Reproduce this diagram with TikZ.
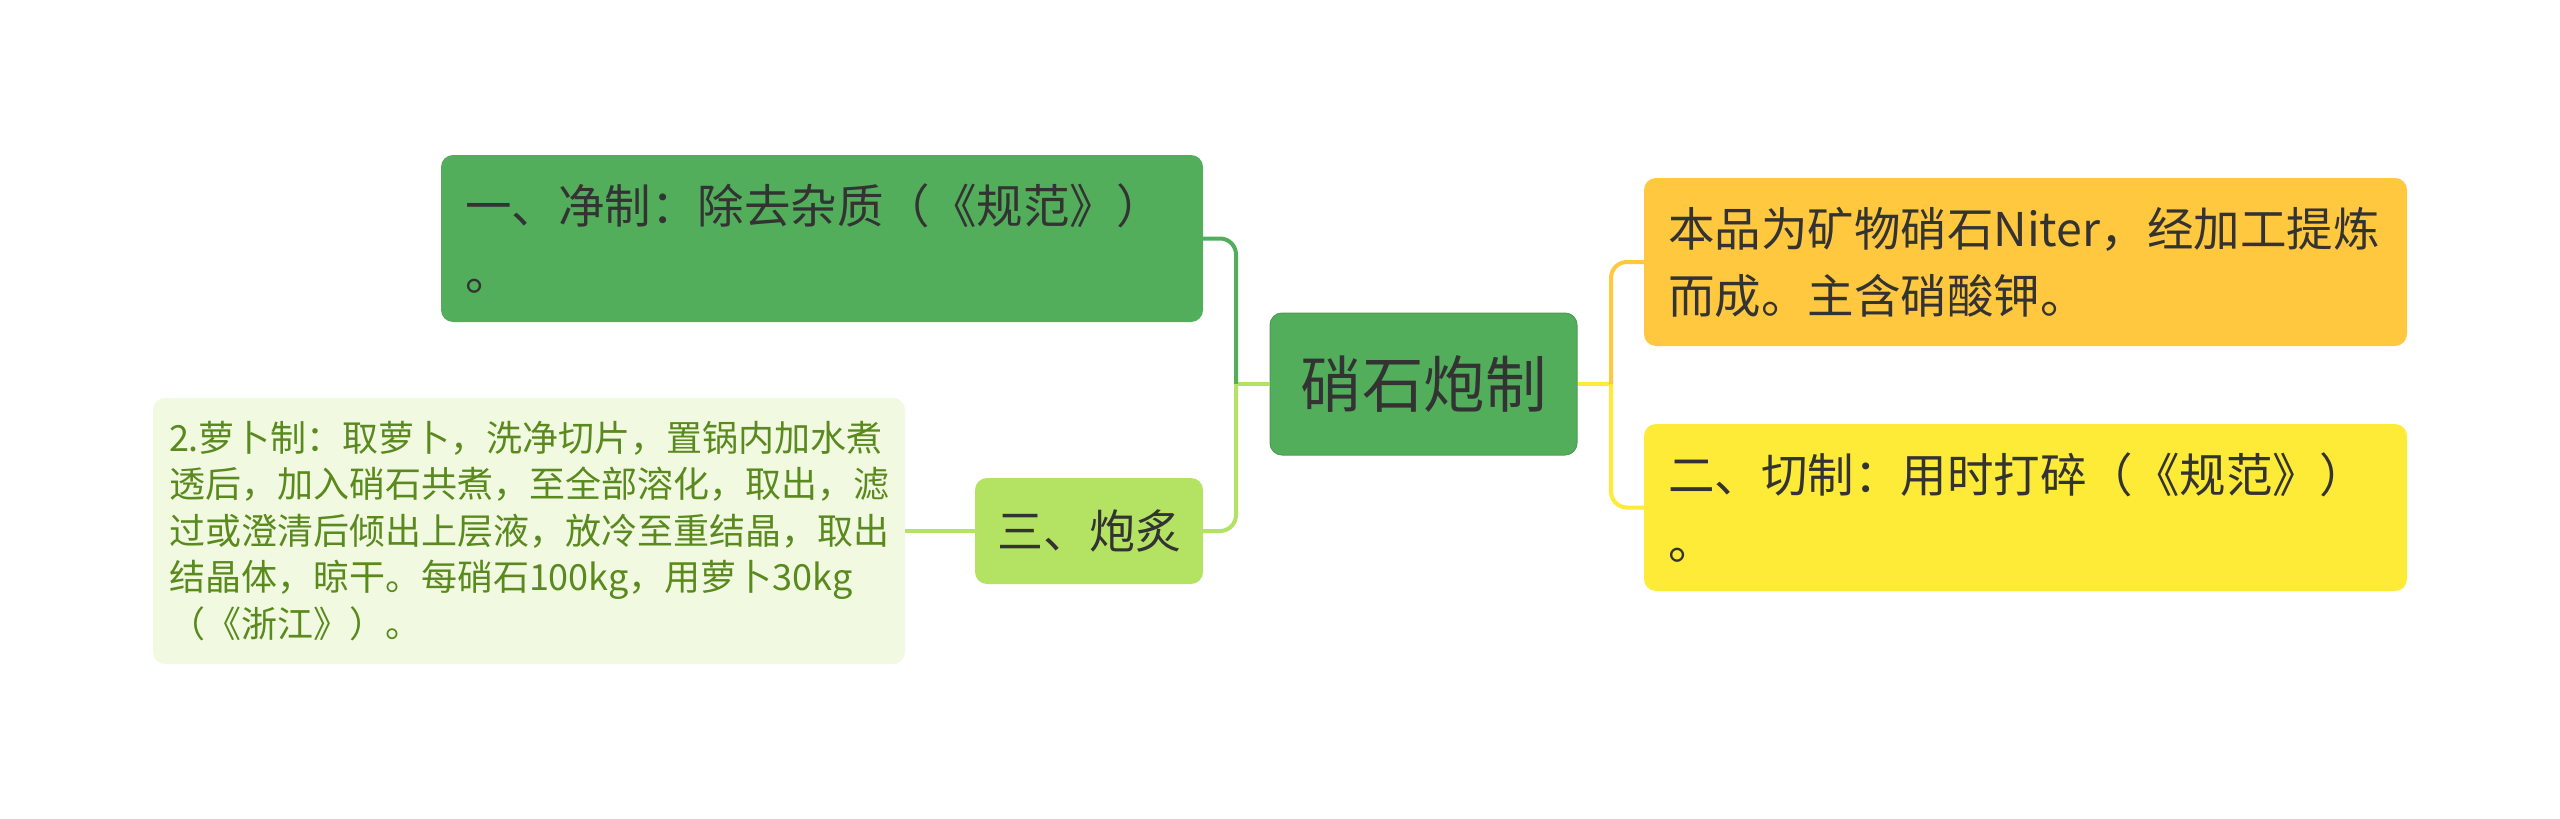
\documentclass[tikz,border=0pt]{standalone}
\usepackage{fontspec}
\setmainfont{Noto Sans CJK SC}
\definecolor{dkgreen}{HTML}{52AE5B}
\definecolor{ltgreen}{HTML}{B4E363}
\definecolor{leafbg}{HTML}{F1F9E1}
\definecolor{leaftext}{HTML}{5A8A1E}
\definecolor{orangeY}{HTML}{FFC83F}
\definecolor{yellowY}{HTML}{FDEB37}
\definecolor{txt}{HTML}{333333}
\tikzset{
  box/.style={rounded corners=12pt, inner ysep=0pt, align=left, anchor=center, text=txt},
  rootbox/.style={box, fill=dkgreen, draw=dkgreen!90!black, line width=1pt, align=center,
     minimum width=307pt, minimum height=142pt, font=\fontsize{61.5}{72}\selectfont},
  lvbox/.style={box, inner xsep=24pt, font=\fontsize{46.5}{67}\selectfont},
  leafbox/.style={box, fill=leafbg, text=leaftext, inner xsep=16pt, font=\fontsize{36}{46.5}\selectfont},
  conn/.style={line width=4pt},
}
\begin{document}
\begin{tikzpicture}[x=1pt,y=-1pt]
\useasboundingbox[fill=white] (0,0) rectangle (2560,819);
% nodes
\node[rootbox] (c) at (1423.5,384) {硝石炮制};
\node[lvbox, fill=dkgreen, text width=714pt, minimum height=167pt] (b1) at (822,238.5)
  {一、净制：除去杂质（《规范》）\\。};
\node[lvbox, fill=ltgreen, inner xsep=0pt, align=center, minimum width=228pt, minimum height=106pt,
  font=\fontsize{46}{54}\selectfont] (b3) at (1089,531) {三、炮炙};
\node[leafbox, text width=720pt, minimum height=266pt] (leaf) at (529,531)
  {2.萝卜制：取萝卜，洗净切片，置锅内加水煮\\透后，加入硝石共煮，至全部溶化，取出，滤\\过或澄清后倾出上层液，放冷至重结晶，取出\\结晶体，晾干。每硝石100kg，用萝卜30kg\\（《浙江》）。};
\node[lvbox, fill=orangeY, text width=715pt, minimum height=168pt] (r1) at (2025.5,262)
  {本品为矿物硝石Niter，经加工提炼\\而成。主含硝酸钾。};
\node[lvbox, fill=yellowY, text width=715pt, minimum height=167pt] (r2) at (2025.5,507.5)
  {二、切制：用时打碎（《规范》）\\。};
% junctions
\coordinate (jl) at (1236,384);
\coordinate (jr) at (1611,384);
% connectors
\draw[conn, ltgreen] (c.west) -- (jl);
\draw[conn, dkgreen, rounded corners=16pt] (jl) |- (b1.east);
\draw[conn, ltgreen, rounded corners=16pt] (jl) |- (b3.east);
\draw[conn, ltgreen] (b3.west) -- (leaf.east);
\draw[conn, yellowY] (c.east) -- (jr);
\draw[conn, orangeY, rounded corners=16pt] (jr) |- (r1.west);
\draw[conn, yellowY, rounded corners=16pt] (jr) |- (r2.west);
\end{tikzpicture}
\end{document}
